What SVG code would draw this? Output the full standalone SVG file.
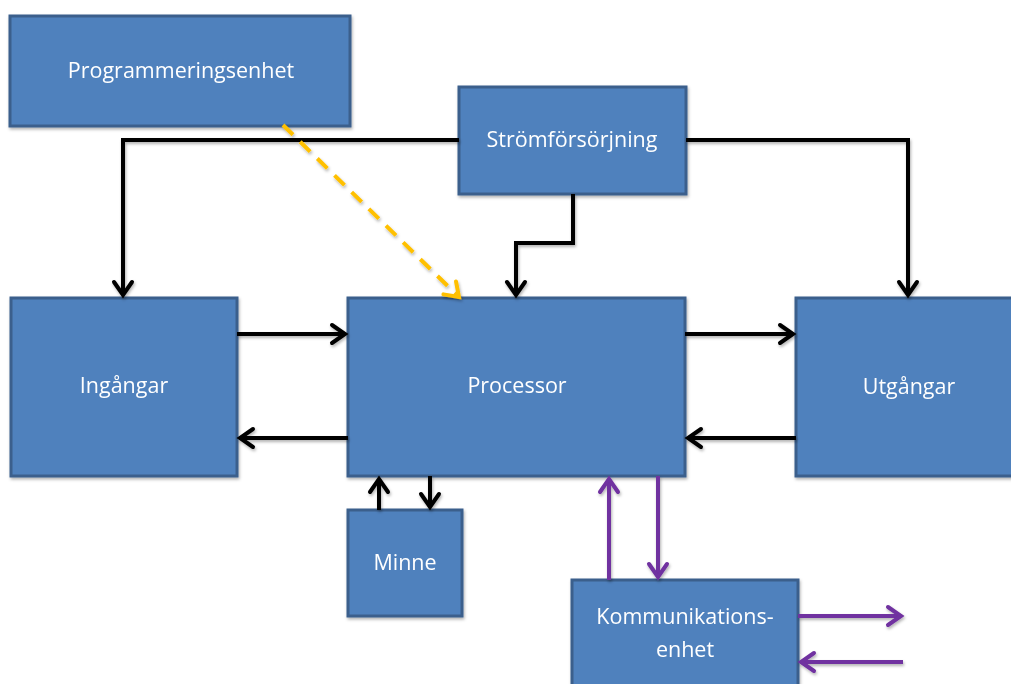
<svg xmlns="http://www.w3.org/2000/svg" width="1011" height="684" viewBox="0 0 1011 684">
<style>
.box{fill:#4F81BD;stroke:#3A5F8C;stroke-width:3}
.lbl{fill:#FFFFFF;font-family:"Open Sans","Noto Sans","Liberation Sans",sans-serif;font-size:21.5px;text-anchor:middle}
.blk{fill:none;stroke:#000;stroke-width:4;marker-end:url(#ab)}
.pur{fill:none;stroke:#7030A0;stroke-width:4;marker-end:url(#ap)}
.yel{fill:none;stroke:#FFC000;stroke-width:4;stroke-dasharray:14 10;marker-end:url(#ay)}
</style>
<defs>
<filter id="sh" x="-10%" y="-10%" width="120%" height="130%">
<feDropShadow dx="1" dy="2" stdDeviation="1.5" flood-color="#000" flood-opacity="0.3"/>
</filter>
<marker id="ab" viewBox="-16 -12 20 24" refX="0" refY="0" markerWidth="20" markerHeight="24" markerUnits="userSpaceOnUse" orient="auto">
<path d="M-13,-9 L0,0 L-13,9" fill="none" stroke="#000" stroke-width="4" stroke-linecap="round" stroke-linejoin="miter"/>
</marker>
<marker id="ap" viewBox="-16 -12 20 24" refX="0" refY="0" markerWidth="20" markerHeight="24" markerUnits="userSpaceOnUse" orient="auto">
<path d="M-13,-9 L0,0 L-13,9" fill="none" stroke="#7030A0" stroke-width="4" stroke-linecap="round"/>
</marker>
<marker id="ay" viewBox="-16 -12 20 24" refX="0" refY="0" markerWidth="20" markerHeight="24" markerUnits="userSpaceOnUse" orient="auto">
<path d="M-13,-9 L0,0 L-13,9" fill="none" stroke="#FFC000" stroke-width="4" stroke-linecap="round"/>
</marker>
</defs>
<rect width="1011" height="684" fill="#FFFFFF"/>
<g id="programmeringsenhet" filter="url(#sh)">
<rect class="box" x="10" y="16" width="340" height="110"/>
<text class="lbl" x="181" y="78">Programmeringsenhet</text>
</g>
<g id="stromforsorjning" filter="url(#sh)">
<rect class="box" x="459" y="87" width="227" height="107"/>
<text class="lbl" x="572" y="147">Strömförsörjning</text>
</g>
<g id="ingangar" filter="url(#sh)">
<rect class="box" x="11" y="298" width="226" height="178"/>
<text class="lbl" x="124" y="393">Ingångar</text>
</g>
<g id="processor" filter="url(#sh)">
<rect class="box" x="348" y="298" width="337" height="178"/>
<text class="lbl" x="517" y="393">Processor</text>
</g>
<g id="utgangar" filter="url(#sh)">
<rect class="box" x="796" y="298" width="225" height="178"/>
<text class="lbl" x="909" y="394">Utgångar</text>
</g>
<g id="minne" filter="url(#sh)">
<rect class="box" x="348" y="510" width="114" height="106"/>
<text class="lbl" x="405" y="570">Minne</text>
</g>
<g id="kommunikationsenhet" filter="url(#sh)">
<rect class="box" x="572" y="580" width="226" height="120"/>
<text class="lbl" x="685" y="624">Kommunikations-</text>
<text class="lbl" x="685" y="657">enhet</text>
</g>
<g id="connectors" filter="url(#sh)">
<path class="blk" d="M459,140 L123,140 L123,295"/>
<path class="blk" d="M686,140 L908,140 L908,295"/>
<path class="blk" d="M573,194 L573,243 L516,243 L516,295"/>
<path class="blk" d="M237,334 L345,334"/>
<path class="blk" d="M348,438 L240,438"/>
<path class="blk" d="M685,334 L793,334"/>
<path class="blk" d="M796,438 L688,438"/>
<path class="blk" d="M379,510 L379,479"/>
<path class="blk" d="M430,476 L430,507"/>
<path class="pur" d="M609,580 L609,479"/>
<path class="pur" d="M658,476 L658,577"/>
<path class="pur" d="M798,616 L901,616"/>
<path class="pur" d="M903,662 L801,662"/>
<path class="yel" d="M283,125 L459,297"/>
</g>
</svg>
